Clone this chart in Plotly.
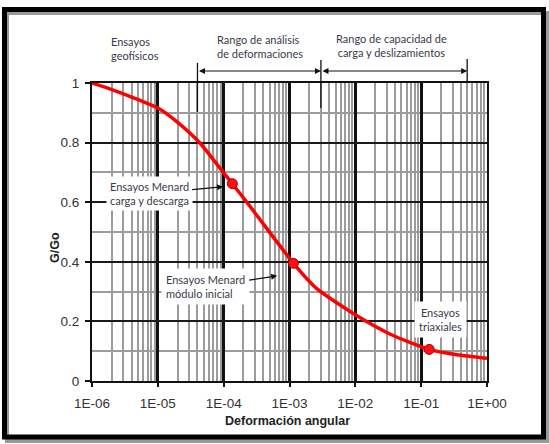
import numpy as np
import plotly.graph_objects as go

# ---- data ----
strain = [1e-6, 2e-6, 4e-6, 1e-5, 2e-5, 4.4e-5, 8.8e-5, 1.355e-4, 2.5e-4,
          4.5e-4, 7.6e-4, 1.146e-3, 2.6e-3, 1e-2, 3.4e-2, 1.324e-1, 3.5e-1, 1.0]
g_ratio = [1.0, 0.978, 0.953, 0.916, 0.868, 0.798, 0.714, 0.662, 0.587,
           0.512, 0.446, 0.395, 0.31, 0.222, 0.157, 0.106, 0.088, 0.076]

test_strain = [1.355e-4, 1.146e-3, 1.324e-1]
test_g = [0.662, 0.395, 0.106]

x_tickvals = [1e-6, 1e-5, 1e-4, 1e-3, 1e-2, 1e-1, 1e0]
x_ticktext = ["1E-06", "1E-05", "1E-04", "1E-03", "1E-02", "1E-01", "1E+00"]
y_tickvals = [0, 0.2, 0.4, 0.6, 0.8, 1.0]
y_ticktext = ["0", "0.2", "0.4", "0.6", "0.8", "1"]

range_bounds = [4e-5, 3e-3, 0.5]   # separators of the ranges on top

# ---- layout geometry ----
W, H = 549, 444
ML, MR, MT, MB = 92, 62, 83, 63
PW, PH = W - ML - MR, H - MT - MB


def px(xp):
    return (xp - ML) / PW


def py(yp):
    return (H - MB - yp) / PH


minor_x = [k * 10.0 ** e for e in range(-6, 0) for k in range(2, 10)]
minor_y = [0.1, 0.3, 0.5, 0.7, 0.9]

fig = go.Figure()
fig.add_trace(go.Scatter(x=strain, y=g_ratio, mode="lines",
                         line=dict(color="#ff0000", width=3.5, shape="spline", smoothing=0.6),
                         hoverinfo="skip", showlegend=False))
fig.add_trace(go.Scatter(x=test_strain, y=test_g, mode="markers",
                         marker=dict(color="#ff1010", size=10, line=dict(color="#a00000", width=1)),
                         showlegend=False))

txt = dict(family="Lato, 'Open Sans', sans-serif", size=11, color="#3a3a4a")
ann = []
# header texts
ann.append(dict(text="Ensayos<br>geofísicos", xref="paper", yref="paper", x=px(109), y=py(48.5),
                xanchor="left", yanchor="middle", align="left", showarrow=False, font=txt))
ann.append(dict(text="Rango de análisis<br>de deformaciones", xref="paper", yref="paper", x=px(215), y=py(47),
                xanchor="left", yanchor="middle", align="left", showarrow=False, font=txt))
ann.append(dict(text="Rango de capacidad de<br>carga y deslizamientos", xref="paper", yref="paper",
                x=px(391.5), y=py(45), xanchor="center", yanchor="middle", align="center",
                showarrow=False, font=txt))
# double arrows
for a, b in [(range_bounds[0], range_bounds[1]), (range_bounds[1], range_bounds[2])]:
    ann.append(dict(text="", x=np.log10(b), y=py(71), xref="x", yref="paper",
                    ax=np.log10(a), ay=0, axref="x", ayref="pixel", showarrow=True,
                    arrowside="end+start", arrowhead=2, arrowsize=1, arrowwidth=1.2,
                    arrowcolor="#111111", standoff=0, startstandoff=0))
# in-plot labels
ann.append(dict(text="Ensayos Menard<br>carga y descarga", x=np.log10(9.8e-5), y=0.652, xref="x", yref="y",
                ax=-74, ay=7, showarrow=True, arrowhead=2, arrowsize=1, arrowwidth=1.2,
                arrowcolor="#111111", bgcolor="white", borderpad=3, align="left", font=txt))
ann.append(dict(text="Ensayos Menard<br>módulo inicial", x=np.log10(6.5e-4), y=0.353, xref="x", yref="y",
                ax=-72, ay=11, showarrow=True, arrowhead=2, arrowsize=1, arrowwidth=1.2,
                arrowcolor="#111111", bgcolor="white", borderpad=4, align="left", font=txt))
ann.append(dict(text="Ensayos<br>triaxiales", x=np.log10(0.2), y=0.205, xref="x", yref="y",
                showarrow=False, bgcolor="white", borderpad=4, align="center", font=txt))
# axis titles
ann.append(dict(text="<b>Deformación angular</b>", xref="paper", yref="paper", x=px(287), y=py(421),
                xanchor="center", yanchor="middle", showarrow=False,
                font=dict(family="Liberation Sans, Arial", size=12.5, color="#222222")))
ann.append(dict(text="<b>G/Go</b>", xref="paper", yref="paper", x=px(55), y=py(248),
                xanchor="center", yanchor="middle", showarrow=False, textangle=-90,
                font=dict(family="Liberation Sans, Arial", size=12.5, color="#222222")))

shapes = []
# shadow + frame
shapes.append(dict(type="rect", xref="paper", yref="paper", x0=px(7), x1=px(547), y0=py(441), y1=py(13),
                   line=dict(color="#9a9a9a", width=4), layer="below"))
shapes.append(dict(type="rect", xref="paper", yref="paper", x0=px(4.5), x1=px(543.5), y0=py(437), y1=py(9.5),
                   line=dict(color="#000000", width=5), layer="above"))
# separators
for xv, ytop, ybot in [(range_bounds[0], 63, 112), (range_bounds[1], 60, 108), (range_bounds[2], 59, 83)]:
    shapes.append(dict(type="line", xref="x", yref="paper", x0=xv, x1=xv, y0=py(ybot), y1=py(ytop),
                       line=dict(color="#111111", width=1.3), layer="above"))

fig.update_layout(
    width=W, height=H, margin=dict(l=ML, r=MR, t=MT, b=MB),
    paper_bgcolor="white", plot_bgcolor="white",
    annotations=ann, shapes=shapes, showlegend=False,
    xaxis=dict(type="log", range=[-6, 0], tickvals=x_tickvals, ticktext=x_ticktext,
               showgrid=True, gridcolor="#111111", gridwidth=2.5,
               minor=dict(tickvals=minor_x, showgrid=True, gridcolor="#9c9c9c", gridwidth=1.5, ticks=""),
               showline=True, linecolor="#111111", linewidth=2, mirror=True,
               ticks="outside", ticklen=4, tickwidth=1.5, tickcolor="#111111",
               ticklabelstandoff=5,
               tickfont=dict(family="Liberation Sans, Arial", size=13.5, color="#333333"),
               zeroline=False),
    yaxis=dict(range=[0, 1], tickvals=y_tickvals, ticktext=y_ticktext,
               showgrid=True, gridcolor="#1a1a1a", gridwidth=1.6,
               minor=dict(tickvals=minor_y, showgrid=True, gridcolor="#9c9c9c", gridwidth=1.5, ticks=""),
               showline=True, linecolor="#111111", linewidth=2, mirror=True,
               ticks="outside", ticklen=5, tickwidth=1.5, tickcolor="#111111",
               ticklabelstandoff=3,
               tickfont=dict(family="Liberation Sans, Arial", size=13.5, color="#333333"),
               zeroline=False),
)

fig.write_html("out.html")
